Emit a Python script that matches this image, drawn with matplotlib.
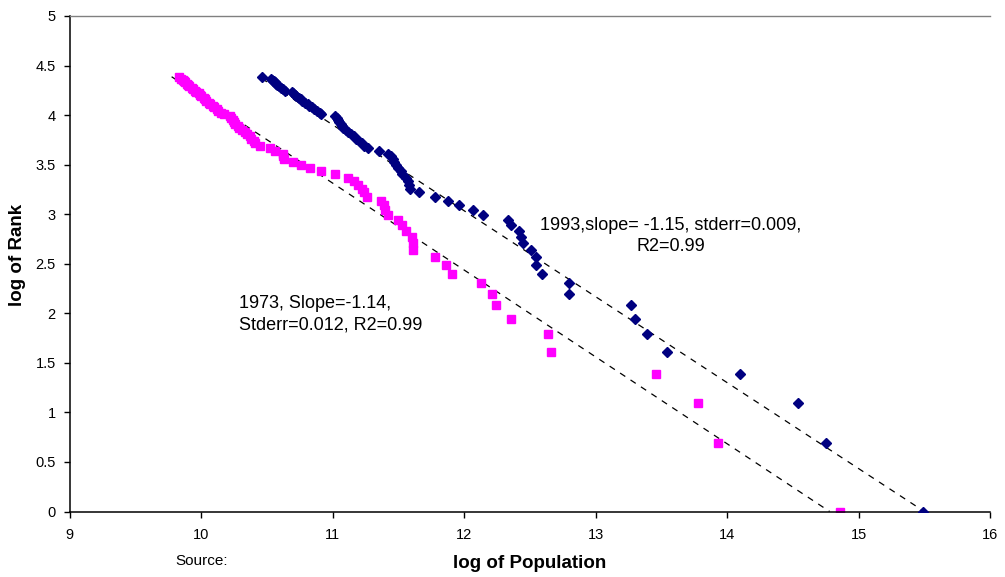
import matplotlib.pyplot as plt
import numpy as np

# log of rank, ranks 1..80 (shared by both years)
log_rank = [0.000, 0.693, 1.099, 1.386, 1.609, 1.792, 1.946, 2.079, 2.197, 2.303,
            2.398, 2.485, 2.565, 2.639, 2.708, 2.773, 2.833, 2.890, 2.944, 2.996,
            3.045, 3.091, 3.135, 3.178, 3.219, 3.258, 3.296, 3.332, 3.367, 3.401,
            3.434, 3.466, 3.497, 3.526, 3.555, 3.584, 3.611, 3.638, 3.664, 3.689,
            3.714, 3.738, 3.761, 3.784, 3.807, 3.829, 3.850, 3.871, 3.892, 3.912,
            3.932, 3.951, 3.970, 3.989, 4.007, 4.025, 4.043, 4.060, 4.078, 4.094,
            4.111, 4.127, 4.143, 4.159, 4.174, 4.190, 4.205, 4.220, 4.234, 4.248,
            4.263, 4.277, 4.290, 4.304, 4.317, 4.331, 4.344, 4.357, 4.369, 4.382]

# log of population, 1993
pop_1993 = [15.49, 14.75, 14.54, 14.10, 13.54, 13.39, 13.30, 13.27, 12.80, 12.80,
            12.59, 12.55, 12.55, 12.51, 12.45, 12.43, 12.42, 12.36, 12.33, 12.14,
            12.07, 11.96, 11.88, 11.78, 11.66, 11.59, 11.58, 11.57, 11.56, 11.53,
            11.52, 11.50, 11.48, 11.47, 11.46, 11.44, 11.42, 11.35, 11.27, 11.24,
            11.22, 11.20, 11.18, 11.16, 11.14, 11.12, 11.10, 11.08, 11.07, 11.06,
            11.05, 11.04, 11.03, 11.02, 10.91, 10.90, 10.88, 10.86, 10.84, 10.82,
            10.81, 10.79, 10.77, 10.76, 10.74, 10.72, 10.71, 10.70, 10.69, 10.64,
            10.62, 10.61, 10.59, 10.58, 10.57, 10.56, 10.55, 10.54, 10.53, 10.46]

# log of population, 1973
pop_1973 = [14.86, 13.93, 13.78, 13.46, 12.66, 12.64, 12.36, 12.24, 12.21, 12.13,
            11.91, 11.86, 11.78, 11.61, 11.61, 11.60, 11.56, 11.53, 11.50, 11.42,
            11.40, 11.39, 11.37, 11.26, 11.24, 11.22, 11.19, 11.16, 11.12, 11.02,
            10.91, 10.83, 10.76, 10.70, 10.63, 10.62, 10.62, 10.56, 10.52, 10.45,
            10.41, 10.40, 10.38, 10.37, 10.35, 10.33, 10.31, 10.29, 10.28, 10.26,
            10.25, 10.24, 10.23, 10.22, 10.17, 10.15, 10.13, 10.12, 10.10, 10.09,
            10.07, 10.06, 10.04, 10.03, 10.02, 10.00, 9.99, 9.98, 9.96, 9.95,
            9.94, 9.93, 9.91, 9.90, 9.89, 9.88, 9.87, 9.86, 9.85, 9.83]

# dashed trend lines as drawn: (x start, y start) -> (x end, y end)
trend_1993_x = [10.46, 15.50]
trend_1993_y = [4.37, 0.0]
trend_1973_x = [9.775, 14.78]
trend_1973_y = [4.387, 0.0]

note_1993 = "1993,slope= -1.15, stderr=0.009,\nR2=0.99"
note_1973 = "1973, Slope=-1.14,\nStderr=0.012, R2=0.99"

plt.rcParams['font.family'] = ['Liberation Sans', 'DejaVu Sans']

fig = plt.figure(figsize=(10.05, 5.77), dpi=100)
ax = fig.add_axes([0.0694, 0.1135, 0.9157, 0.8588])

ax.plot(trend_1993_x, trend_1993_y, color='black', lw=0.9, ls=(0, (5, 5)), zorder=1)
ax.plot(trend_1973_x, trend_1973_y, color='black', lw=0.9, ls=(0, (5, 5)), zorder=1)

ax.plot(pop_1993, log_rank, ls='none', marker='D', ms=5.5, color='#000080', mec='#000080', zorder=3)
ax.plot(pop_1973, log_rank, ls='none', marker='s', ms=6.3, color='#FF00FF', mec='#FF00FF', zorder=2)

ax.set_xlim(9, 16)
ax.set_ylim(0, 5)
ax.set_xticks(range(9, 17))
ax.set_yticks(np.arange(0, 5.01, 0.5))
ax.yaxis.set_major_formatter(plt.FuncFormatter(lambda v, p: f"{v:g}"))
ax.tick_params(direction='out', length=4, width=1, labelsize=10.5)
ax.tick_params(axis='x', pad=8)
ax.tick_params(axis='y', pad=6)

for s in ['left', 'bottom']:
    ax.spines[s].set_linewidth(1.1)
ax.spines['right'].set_visible(False)
ax.spines['top'].set_color('#808080')
ax.spines['top'].set_linewidth(1)

ax.set_xlabel('log of Population', fontsize=13.5, fontweight='bold', labelpad=9)
fig.text(18 / 1005, 1 - 255 / 577, 'log of Rank', fontsize=13.5, fontweight='bold',
         rotation=90, ha='center', va='center')

ax.text(13.57, 2.78, note_1993, fontsize=13, ha='center', va='center',
        multialignment='center', linespacing=1.35)
ax.text(10.29, 1.99, note_1973, fontsize=13, ha='left', va='center',
        multialignment='left', linespacing=1.4)

fig.text(175 / 1005, 1 - 561 / 577, 'Source:', fontsize=11, ha='left', va='center')

fig.savefig('out.png', dpi=100)
